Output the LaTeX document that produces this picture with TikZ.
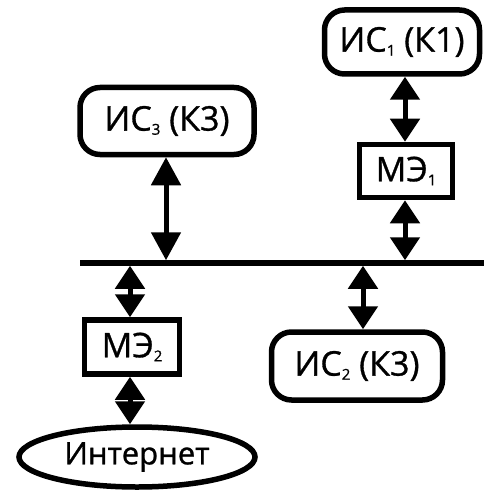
\documentclass[tikz,border=0pt]{standalone}
\usepackage{fontspec}
\setmainfont[FakeBold=0.9]{Open Sans}
\usetikzlibrary{arrows.meta,shapes.geometric}
\newcommand{\lowidx}[1]{\raisebox{-0.12em}{\fontsize{15}{15}\selectfont #1}}
\begin{document}
\begin{tikzpicture}[x=1pt,y=-1pt,
  every node/.style={font=\fontsize{34}{36}\selectfont, line width=5.5pt, draw, inner sep=0pt},
  host/.style={rounded corners=20pt},
  screen/.style={rectangle},
  cloud/.style={ellipse, font=\fontsize{31}{33}\selectfont},
  biarrow/.style={line width=5pt, {Triangle[width=29pt,length=23pt]}-{Triangle[width=29pt,length=23pt]}},
  longarrow/.style={line width=5pt, {Triangle[width=29pt,length=28pt]}-{Triangle[width=29pt,length=28pt]}},
  busline/.style={fill, draw=none, outer sep=0pt, minimum height=5.5pt}]
\useasboundingbox (0,0) rectangle (484,492);

% hosts and screens
\node[host, minimum width=155pt, minimum height=64pt] (ic1) at (402,42) {ИС\lowidx{1} (К1)};
\node[screen, minimum width=93pt, minimum height=53pt] (me1) at (406,171) {МЭ\lowidx{1}};
\node[host, minimum width=174pt, minimum height=67pt] (ic3) at (167,121) {ИС\lowidx{3} (К3)};
\node[screen, minimum width=95pt, minimum height=54pt] (me2) at (132,347) {МЭ\lowidx{2}};
\node[host, minimum width=171pt, minimum height=68pt] (ic2) at (357,366) {ИС\lowidx{2} (К3)};
\node[cloud, minimum width=236pt, minimum height=60pt] (net) at (137,457) {Интернет};

% bus
\node[busline, minimum width=404pt] (bus) at (282,263) {};
\coordinate (tap1) at (405,263);
\coordinate (tap2) at (363,263);
\coordinate (tap3) at (166,263);
\coordinate (tap4) at (130,263);

% links
\draw[biarrow] (ic1.south -| tap1) -- (me1.north -| tap1);
\draw[biarrow] (me1.south -| tap1) -- (bus.north -| tap1);
\draw[longarrow] (ic3.south -| tap3) -- (bus.north -| tap3);
\draw[biarrow] (bus.south -| tap2) -- (ic2.north -| tap2);
\draw[biarrow] (bus.south -| tap4) -- (me2.north -| tap4);
\draw[biarrow] (me2.south -| tap4) -- (net.north -| tap4);
\end{tikzpicture}
\end{document}
